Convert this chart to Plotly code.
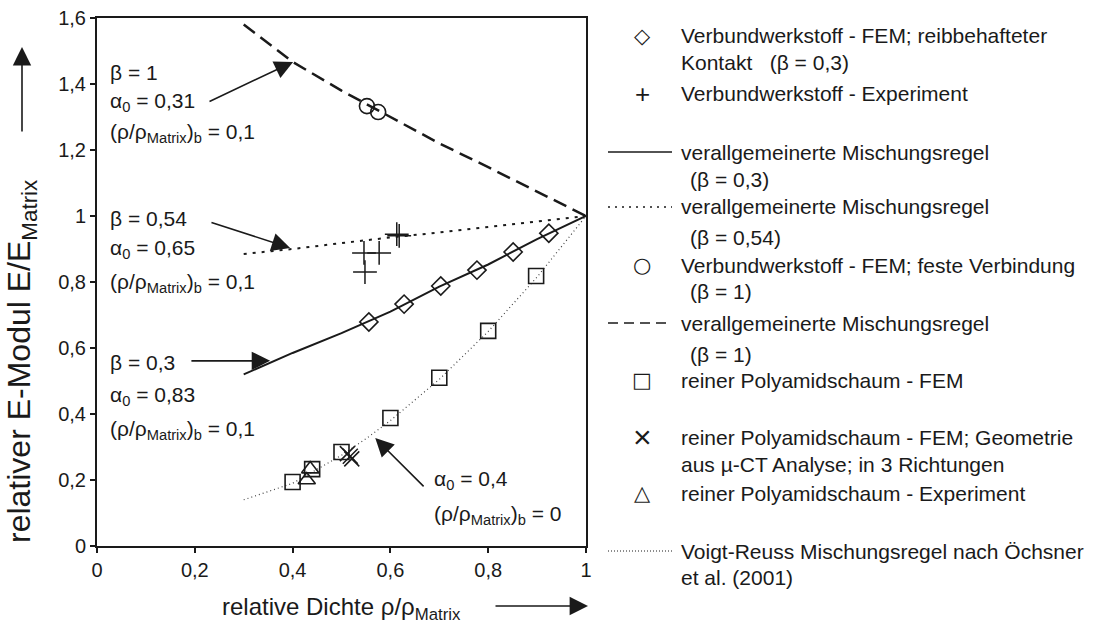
import plotly.graph_objects as go

# ---- model curves (relative density -> relative modulus) ----
rho_curve = [0.3, 0.4, 0.5, 0.55, 0.6, 0.7, 0.8, 0.9, 1.0]
e_beta03 = [0.52, 0.585, 0.645, 0.677, 0.71, 0.786, 0.853, 0.93, 1.0]
e_beta054 = [0.885, 0.90, 0.918, 0.927, 0.935, 0.95, 0.967, 0.983, 1.0]
e_beta1 = [1.58, 1.467, 1.38, 1.34, 1.30, 1.22, 1.148, 1.075, 1.0]
e_voigt = [0.14, 0.19, 0.275, 0.325, 0.38, 0.505, 0.65, 0.815, 1.0]

# ---- composite, FEM with frictional contact (beta = 0.3) ----
comp_fric_rho = [0.556, 0.628, 0.703, 0.777, 0.851, 0.924]
comp_fric_e = [0.679, 0.733, 0.788, 0.836, 0.891, 0.948]

# ---- composite, experiment ----
comp_exp_rho = [0.546, 0.577, 0.548, 0.613, 0.618]
comp_exp_e = [0.888, 0.888, 0.830, 0.945, 0.940]

# ---- composite, FEM with rigid bonding (beta = 1) ----
comp_rigid_rho = [0.552, 0.575]
comp_rigid_e = [1.333, 1.315]

# ---- pure polyamide foam ----
foam_fem_rho = [0.40, 0.44, 0.50, 0.60, 0.70, 0.80, 0.898]
foam_fem_e = [0.194, 0.233, 0.285, 0.388, 0.51, 0.652, 0.818]
foam_ct_rho = [0.512, 0.518, 0.521]
foam_ct_e = [0.280, 0.272, 0.264]
foam_exp_rho = [0.429, 0.436]
foam_exp_e = [0.200, 0.233]

# ---- axis ticks ----
x_ticks = [0, 0.2, 0.4, 0.6, 0.8, 1.0]
x_tick_text = ["0", "0,2", "0,4", "0,6", "0,8", "1"]
y_ticks = [0, 0.2, 0.4, 0.6, 0.8, 1.0, 1.2, 1.4, 1.6]
y_tick_text = ["0", "0,2", "0,4", "0,6", "0,8", "1", "1,2", "1,4", "1,6"]

FONT = "Liberation Sans, Arial, sans-serif"
SYM_FONT = "DejaVu Sans, sans-serif"
BLACK = "#1a1a1a"

W, H = 1096, 626
L, R, T, B = 97, 586, 18, 546  # plot box in pixels


def px(x):
    return (x - L) / (R - L)


def py(y):
    return (B - y) / (B - T)


fig = go.Figure()

fig.add_trace(go.Scatter(x=rho_curve, y=e_voigt, mode="lines",
                         line=dict(color="#444", width=1.2, dash="1px,3px")))
fig.add_trace(go.Scatter(x=rho_curve, y=e_beta03, mode="lines",
                         line=dict(color=BLACK, width=2)))
fig.add_trace(go.Scatter(x=rho_curve, y=e_beta054, mode="lines",
                         line=dict(color=BLACK, width=2, dash="3px,6px")))
fig.add_trace(go.Scatter(x=rho_curve, y=e_beta1, mode="lines",
                         line=dict(color=BLACK, width=2.5, dash="14px,7px")))


def markers(xs, ys, symbol, size, width=1.6):
    fig.add_trace(go.Scatter(
        x=xs, y=ys, mode="markers",
        marker=dict(symbol=symbol, size=size, color=BLACK,
                    line=dict(color=BLACK, width=width))))


markers(comp_fric_rho, comp_fric_e, "diamond-open", 14)
markers(comp_exp_rho, comp_exp_e, "cross-thin-open", 17, 1.5)
markers(comp_rigid_rho, comp_rigid_e, "circle-open", 15)
markers(foam_fem_rho, foam_fem_e, "square-open", 15)
markers(foam_ct_rho, foam_ct_e, "x-thin-open", 15, 1.5)
markers(foam_exp_rho, foam_exp_e, "triangle-up-open", 15)

annotations = []

# parameter labels inside the plot
param_lines = [
    ("β = 1", 108, 72), ("α<sub>0</sub> = 0,31", 108, 102),
    ("(ρ/ρ<sub>Matrix</sub>)<sub>b</sub> = 0,1", 108, 133),
    ("β = 0,54", 108, 218), ("α<sub>0</sub> = 0,65", 108, 249),
    ("(ρ/ρ<sub>Matrix</sub>)<sub>b</sub> = 0,1", 108, 283),
    ("β = 0,3", 108, 363), ("α<sub>0</sub> = 0,83", 108, 396),
    ("(ρ/ρ<sub>Matrix</sub>)<sub>b</sub> = 0,1", 108, 430),
    ("α<sub>0</sub> = 0,4", 432, 480),
    ("(ρ/ρ<sub>Matrix</sub>)<sub>b</sub> = 0", 432, 515),
]
for txt, x, y in param_lines:
    annotations.append(dict(text=txt, xref="paper", yref="paper",
                            x=px(x), y=py(y), xanchor="left", yanchor="middle",
                            showarrow=False, font=dict(family=FONT, size=21, color=BLACK)))

# arrows pointing at the curves (tip -> tail in data units)
arrows = [
    ((0.401, 1.467), (0.227, 1.345)),
    ((0.395, 0.903), (0.231, 0.982)),
    ((0.354, 0.561), (0.190, 0.561)),
    ((0.569, 0.327), (0.671, 0.176)),
]
for (tx, ty), (ax, ay) in arrows:
    annotations.append(dict(text="", x=tx, y=ty, ax=ax, ay=ay, xref="x", yref="y",
                            axref="x", ayref="y", showarrow=True, arrowhead=2,
                            arrowsize=2.3, arrowwidth=1.6, arrowcolor=BLACK))

# axis titles with direction arrows
annotations.append(dict(text="relative Dichte ρ/ρ<sub>Matrix</sub>", xref="paper", yref="paper",
                        x=px(341), y=py(608), xanchor="center", yanchor="middle",
                        showarrow=False, font=dict(family=FONT, size=24, color=BLACK)))
annotations.append(dict(text="relativer E-Modul E/E<sub>Matrix</sub>", xref="paper", yref="paper",
                        x=px(21), y=py(362), xanchor="center", yanchor="middle", textangle=-90,
                        showarrow=False, font=dict(family=FONT, size=32, color=BLACK)))
annotations.append(dict(text="", xref="paper", yref="paper", x=px(588), y=py(606),
                        ax=-94, ay=0, showarrow=True, arrowhead=2, arrowsize=2.3,
                        arrowwidth=1.6, arrowcolor=BLACK))
annotations.append(dict(text="", xref="paper", yref="paper", x=px(22), y=py(47),
                        ax=0, ay=86, showarrow=True, arrowhead=2, arrowsize=2.3,
                        arrowwidth=1.6, arrowcolor=BLACK))

# legend block on the right
legend_text = [
    ("Verbundwerkstoff - FEM; reibbehafteter", 679, 36),
    ("Kontakt   (β = 0,3)", 679, 62),
    ("Verbundwerkstoff - Experiment", 679, 94),
    ("verallgemeinerte Mischungsregel", 679, 152),
    ("(β = 0,3)", 688, 180),
    ("verallgemeinerte Mischungsregel", 679, 207),
    ("(β = 0,54)", 688, 237),
    ("Verbundwerkstoff - FEM; feste Verbindung", 679, 265),
    ("(β = 1)", 688, 291),
    ("verallgemeinerte Mischungsregel", 679, 323),
    ("(β = 1)", 688, 355),
    ("reiner Polyamidschaum - FEM", 679, 380),
    ("reiner Polyamidschaum - FEM; Geometrie", 679, 437),
    ("aus µ-CT Analyse; in 3 Richtungen", 679, 464),
    ("reiner Polyamidschaum - Experiment", 679, 493),
    ("Voigt-Reuss Mischungsregel nach Öchsner", 679, 551),
    ("et al. (2001)", 679, 577),
]
for txt, x, y in legend_text:
    annotations.append(dict(text=txt, xref="paper", yref="paper", x=px(x), y=py(y),
                            xanchor="left", yanchor="middle", showarrow=False,
                            font=dict(family=FONT, size=21, color=BLACK)))

legend_glyphs = [("◇", 36, 21, SYM_FONT), ("+", 94, 26, FONT), ("○", 265, 21, SYM_FONT),
                 ("□", 380, 21, SYM_FONT), ("×", 437, 32, FONT), ("△", 493, 21, SYM_FONT)]
for g, y, s, f in legend_glyphs:
    annotations.append(dict(text=g, xref="paper", yref="paper", x=px(642), y=py(y),
                            xanchor="center", yanchor="middle", showarrow=False,
                            font=dict(family=f, size=s, color=BLACK)))

shapes = []
legend_lines = [(152, 1.5, "solid"), (207, 1.5, "2px,5px"), (323, 1.5, "10px,6px"),
                (551, 1, "1px,2px")]
for y, w, d in legend_lines:
    shapes.append(dict(type="line", xref="paper", yref="paper", x0=px(608), x1=px(672),
                       y0=py(y), y1=py(y), line=dict(color=BLACK, width=w, dash=d)))

axis_common = dict(showgrid=False, zeroline=False, showline=True, mirror=True,
                   linecolor=BLACK, linewidth=2, ticks="outside", ticklen=5,
                   tickwidth=1.5, tickcolor=BLACK,
                   tickfont=dict(family=FONT, size=20, color=BLACK))

fig.update_layout(
    width=W, height=H,
    margin=dict(l=L, r=W - R, t=T, b=H - B, autoexpand=False),
    paper_bgcolor="white", plot_bgcolor="white",
    showlegend=False,
    xaxis=dict(range=[0, 1], tickvals=x_ticks, ticktext=x_tick_text, **axis_common),
    yaxis=dict(range=[0, 1.6], tickvals=y_ticks, ticktext=y_tick_text, **axis_common),
    annotations=annotations,
    shapes=shapes,
)

fig.write_html("out.html")
